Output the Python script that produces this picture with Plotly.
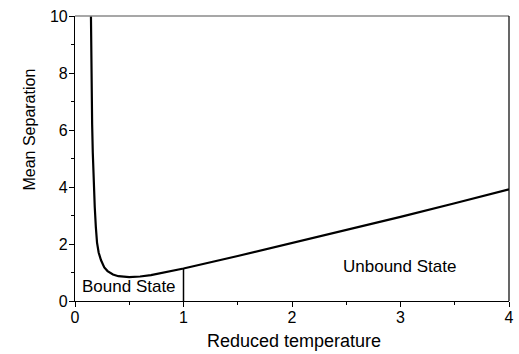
import plotly.graph_objects as go

# Data
temp = [0.147, 0.152, 0.158, 0.164, 0.172, 0.182, 0.192, 0.203, 0.218, 0.24, 0.27, 0.3, 0.35, 0.4,
        0.5, 0.6, 0.7, 0.8, 0.9, 1.0, 1.5, 2.0, 2.5, 3.0, 3.5, 4.0]
separation = [10.0, 7.6, 6.2, 5.2, 4.2, 3.3, 2.6, 2.05, 1.7, 1.43, 1.18, 1.05, 0.93, 0.87,
              0.84, 0.86, 0.91, 0.98, 1.06, 1.14, 1.58, 2.03, 2.49, 2.95, 3.43, 3.92]
divider_x = [1.0, 1.0]
divider_y = [0.0, 1.14]

x_ticks = [0, 1, 2, 3, 4]
y_ticks = [0, 2, 4, 6, 8, 10]

FONT = "Liberation Sans, Arial, sans-serif"

fig = go.Figure()
fig.add_trace(go.Scatter(x=temp, y=separation, mode="lines",
                         line=dict(color="black", width=2.2), showlegend=False))
fig.add_trace(go.Scatter(x=divider_x, y=divider_y, mode="lines",
                         line=dict(color="black", width=1.5), showlegend=False))

fig.update_layout(
    width=519, height=354,
    margin=dict(l=75, r=5, t=16, b=53),
    paper_bgcolor="white", plot_bgcolor="white",
    font=dict(family=FONT, color="black"),
    xaxis=dict(range=[0, 4], tickvals=x_ticks, ticks="outside", ticklen=5, tickwidth=1,
               tickcolor="black", showline=True, linecolor="black", linewidth=1.2,
               showgrid=False, zeroline=False, tickfont=dict(size=16), ticklabelstandoff=-3,
               minor=dict(dtick=0.5, ticks="outside", ticklen=3, tickcolor="black", showgrid=False)),
    yaxis=dict(range=[0, 10], tickvals=y_ticks, ticks="outside", ticklen=5, tickwidth=1,
               tickcolor="black", showline=True, linecolor="black", linewidth=1.2,
               showgrid=False, zeroline=False, tickfont=dict(size=16), ticklabelstandoff=-2,
               minor=dict(dtick=1, ticks="outside", ticklen=3, tickcolor="black", showgrid=False)),
    shapes=[
        dict(type="line", xref="paper", yref="paper", x0=0, x1=1, y0=1, y1=1,
             line=dict(color="#8a8a8a", width=1.5)),
        dict(type="line", xref="paper", yref="paper", x0=1, x1=1, y0=0, y1=1,
             line=dict(color="black", width=1.2)),
    ],
    annotations=[
        dict(text="Reduced temperature", xref="paper", yref="paper", x=0.505,
             y=-0.14, xanchor="center", yanchor="middle", showarrow=False,
             font=dict(size=18)),
        dict(text="Mean Separation", xref="paper", yref="paper", x=-0.107, y=0.6,
             textangle=-90, xanchor="center", yanchor="middle", showarrow=False,
             font=dict(size=16)),
        dict(text="Bound State", x=0.5, y=0.5, xanchor="center", yanchor="middle",
             showarrow=False, font=dict(size=17)),
        dict(text="Unbound State", x=2.99, y=1.2, xanchor="center", yanchor="middle",
             showarrow=False, font=dict(size=17)),
    ],
)

fig.write_html("out.html", config={"displayModeBar": False},
               post_script="document.body.style.margin='0';document.body.style.padding='0';")
